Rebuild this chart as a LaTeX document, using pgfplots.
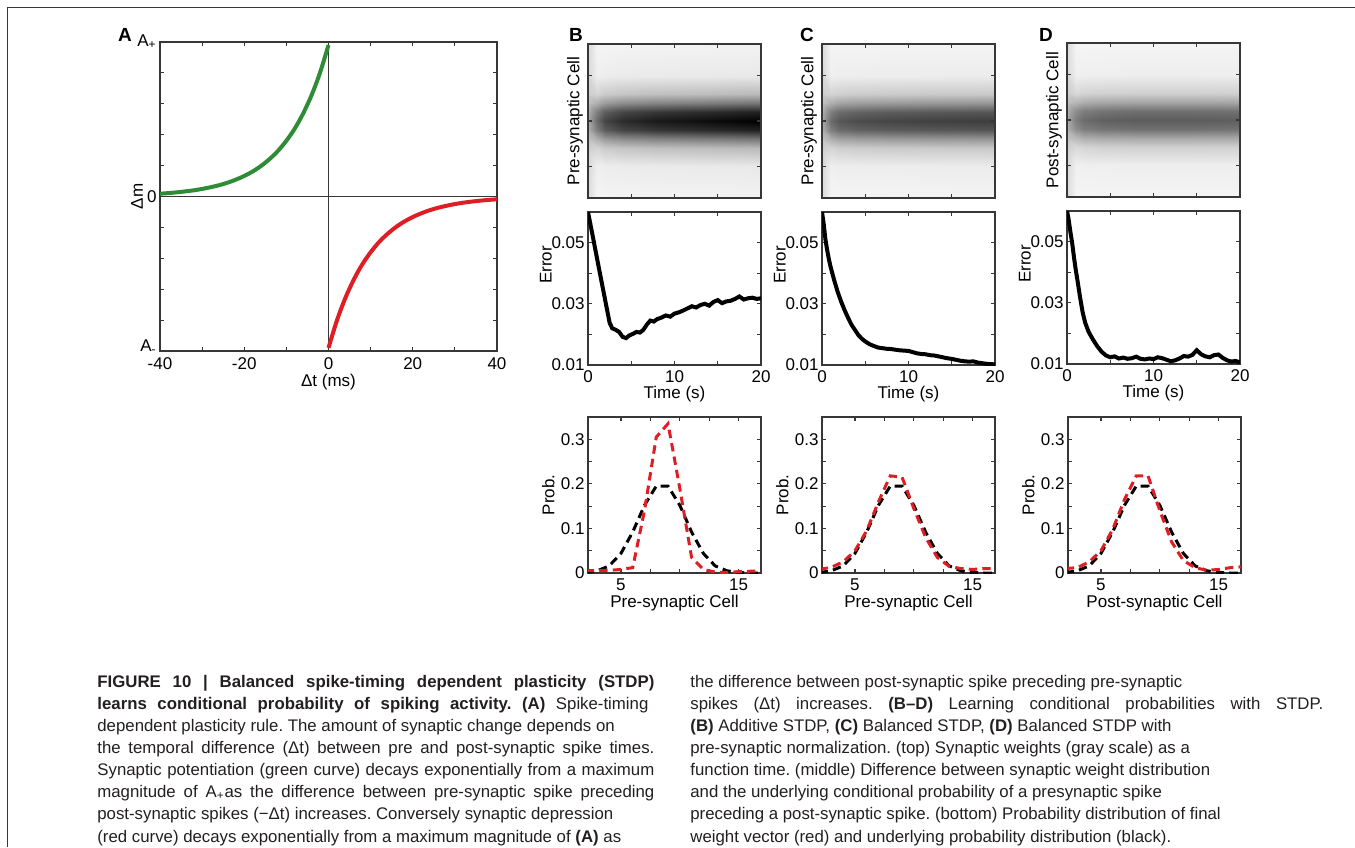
\documentclass[border=0pt]{standalone}
\usepackage{fontspec}
\setmainfont{Liberation Sans}
\usepackage{pgfplots}
\pgfplotsset{compat=1.18}
\usepackage{pgfplotstable}

\definecolor{stdpgreen}{RGB}{46,139,54}
\definecolor{stdpred}{RGB}{222,30,36}
\definecolor{framegray}{RGB}{55,55,55}
\definecolor{captxt}{RGB}{35,31,32}

\newcommand{\lab}{\fontsize{8.5}{9}\selectfont}
\newcommand{\capfont}{\fontsize{8.4}{9}\selectfont}

% synaptic weights: t (s), cell offset from band centre, weight for B, C, D
\pgfplotstableread{
t y wb wc wd
0 -8.5 .144 .144 .144
1 -8.5 .041 .041 .040
2 -8.5 .044 .043 .041
4 -8.5 .046 .043 .042
8 -8.5 .047 .044 .042
14 -8.5 .048 .044 .042
20 -8.5 .049 .045 .042
0 -5 .152 .152 .152
1 -5 .063 .063 .059
2 -5 .072 .068 .063
4 -5 .078 .070 .065
8 -5 .082 .072 .067
14 -5 .085 .073 .067
20 -5 .088 .074 .066
0 -3 .19 .19 .19
1 -3 .168 .168 .15
2 -3 .205 .188 .168
4 -3 .23 .198 .178
8 -3 .248 .205 .183
14 -3 .26 .21 .183
20 -3 .273 .213 .18
0 -2 .244 .244 .244
1 -2 .316 .316 .28
2 -2 .394 .358 .316
4 -2 .446 .378 .337
8 -2 .482 .394 .347
14 -2 .508 .404 .347
20 -2 .534 .41 .342
0 -1 .314 .314 .314
1 -1 .509 .509 .448
2 -1 .639 .578 .509
4 -1 .726 .613 .543
8 -1 .787 .639 .561
14 -1 .83 .656 .561
20 -1 .874 .665 .552
0 0 .34 .34 .34
1 0 .58 .58 .51
2 0 .73 .66 .58
4 0 .83 .70 .62
8 0 .90 .73 .64
14 0 .95 .75 .64
20 0 1.0 .76 .63
0 1 .314 .314 .314
1 1 .509 .509 .448
2 1 .639 .578 .509
4 1 .726 .613 .543
8 1 .787 .639 .561
14 1 .83 .656 .561
20 1 .874 .665 .552
0 2 .244 .244 .244
1 2 .316 .316 .28
2 2 .394 .358 .316
4 2 .446 .378 .337
8 2 .482 .394 .347
14 2 .508 .404 .347
20 2 .534 .41 .342
0 3 .19 .19 .19
1 3 .168 .168 .15
2 3 .205 .188 .168
4 3 .23 .198 .178
8 3 .248 .205 .183
14 3 .26 .21 .183
20 3 .273 .213 .18
0 5 .152 .152 .152
1 5 .063 .063 .059
2 5 .072 .068 .063
4 5 .078 .070 .065
8 5 .082 .072 .067
14 5 .085 .073 .067
20 5 .088 .074 .066
0 8.5 .144 .144 .144
1 8.5 .041 .041 .040
2 8.5 .044 .043 .041
4 8.5 .046 .043 .042
8 8.5 .047 .044 .042
14 8.5 .048 .044 .042
20 8.5 .049 .045 .042
}\heat

\pgfplotsset{
  panel/.style={
    scale only axis,
    axis line style={framegray, line width=0.55pt},
    tick style={framegray, line width=0.55pt},
    major tick length=1.8pt, minor tick length=1.8pt,
    tick align=inside,
    ticklabel style={font=\lab, text=black, inner sep=1.5pt},
    xticklabel style={yshift=-1pt},
    label style={font=\lab},
    /pgf/number format/assume math mode=true,
    scaled x ticks=false, scaled y ticks=false,
    enlargelimits=false,
  },
  heat/.style={panel, width=86.5pt, height=77pt,
    xmin=0, xmax=20, ymin=-8.5, ymax=8.5,
    xtick={5,10,15}, ytick={-5,0,5}, xticklabels={}, yticklabels={},
    axis on top,
    colormap={bw}{gray(0cm)=(1); gray(1cm)=(0)},
    point meta min=0, point meta max=1,
    ylabel style={at={(axis description cs:-0.075,0.5)}, anchor=center}},
  err/.style={panel, width=86.5pt, height=76.5pt,
    xmin=0, xmax=20, ymin=0.01, ymax=0.06,
    xtick={0,10,20}, minor xtick={5,15},
    ytick={0.01,0.03,0.05}, yticklabels={0.01,0.03,0.05}, minor ytick={0.02,0.04},
    xlabel={Time (s)}, ylabel={Error},
    xlabel style={at={(axis description cs:0.5,-0.19)}, anchor=center},
    ylabel style={at={(axis description cs:-0.243,0.654)}, anchor=center}},
  prob/.style={panel, width=86.5pt, height=78pt,
    xmin=2.2, xmax=16.9, ymin=0, ymax=0.35,
    xtick={5,15}, minor xtick={7.5,10,12.5},
    ytick={0,0.1,0.2,0.3}, yticklabels={0,0.1,0.2,0.3}, minor ytick={0.05,0.15,0.25},
    ylabel={Prob.},
    xlabel style={at={(axis description cs:0.5,-0.192)}, anchor=center},
    ylabel style={at={(axis description cs:-0.23,0.5)}, anchor=center}},
  errline/.style={black, line width=2pt},
  pdash/.style={line width=1.5pt, dash pattern=on 4.2pt off 2.6pt},
}

\newcommand{\blackprob}{\addplot[pdash, black] coordinates {
  (2,0.001) (3,0.005) (4,0.016) (5,0.044) (6,0.092) (7,0.152) (8,0.195) (9,0.195)
  (10,0.152) (11,0.092) (12,0.044) (13,0.016) (14,0.005) (15,0.001) (16,0.000) (17,0.000)};}

\begin{document}
\frenchspacing
\begin{tikzpicture}
\useasboundingbox (0,0) rectangle (677.5pt,-423.5pt);
\draw[framegray, line width=0.75pt] (3.75pt,-423.5pt) -- (3.75pt,-3.75pt) -- (677.5pt,-3.75pt);

% ---- A: STDP rule
\begin{axis}[panel, at={(80pt,-21pt)}, anchor=north west,
  width=168.5pt, height=154.5pt,
  xmin=-40, xmax=40, ymin=-1, ymax=1,
  xtick={-40,-20,0,20,40}, minor xtick={-30,-10,10,30},
  xticklabel style={yshift=-0.5pt},
  ytick={-1,0,1},
  yticklabels={\raisebox{5.5pt}{A\textsubscript{-}},0,\raisebox{1.5pt}{A\textsubscript{+}}},
  minor ytick={-0.8,-0.6,-0.4,-0.2,0.2,0.4,0.6,0.8},
  xlabel={Δt (ms)}, ylabel={Δm},
  xlabel style={at={(axis description cs:0.5,-0.1)}, anchor=center},
  ylabel style={at={(axis description cs:-0.068,0.5)}, anchor=center}]
\addplot[framegray, line width=0.5pt] coordinates {(-40,0) (40,0)};
\addplot[framegray, line width=0.5pt] coordinates {(0,-1) (0,1)};
\addplot[stdpgreen, line width=2pt, smooth] coordinates {
  (-40,0.018) (-38,0.022) (-36,0.027) (-34,0.033) (-32,0.040) (-30,0.049)
  (-28,0.060) (-26,0.073) (-24,0.089) (-22,0.109) (-20,0.133) (-18,0.162)
  (-16,0.198) (-14,0.242) (-12,0.295) (-10,0.361) (-8,0.440) (-6,0.538)
  (-4,0.657) (-2,0.802) (0,0.980)};
\addplot[stdpred, line width=2pt, smooth] coordinates {
  (0,-0.980) (2,-0.802) (4,-0.657) (6,-0.538) (8,-0.440) (10,-0.361)
  (12,-0.295) (14,-0.242) (16,-0.198) (18,-0.162) (20,-0.133) (22,-0.109)
  (24,-0.089) (26,-0.073) (28,-0.060) (30,-0.049) (32,-0.040) (34,-0.033)
  (36,-0.027) (38,-0.022) (40,-0.018)};
\end{axis}
\node[font=\fontsize{9.5}{10}\selectfont\bfseries] at (62.5pt,-17.5pt) {A};

% ---- B
\begin{axis}[heat, at={(294pt,-22pt)}, anchor=north west, ylabel={Pre-synaptic Cell}]
\addplot[surf, shader=interp, mesh/cols=7, point meta=explicit] table[x=t, y=y, meta=wb] {\heat};
\end{axis}
\begin{axis}[err, at={(294pt,-106pt)}, anchor=north west]
\addplot[errline] coordinates {
  (0,0.0600) (0.5,0.0528) (1.0,0.0455) (1.5,0.0382) (2.0,0.0310) (2.5,0.0238)
  (2.8,0.0220) (3.2,0.0215) (3.6,0.0208) (4.0,0.0192) (4.4,0.0188) (4.8,0.0197)
  (5.2,0.0202) (5.6,0.0208) (6.0,0.0206) (6.4,0.0215) (6.8,0.0232) (7.2,0.0245)
  (7.6,0.0242) (8.0,0.0250) (8.5,0.0255) (9.0,0.0262) (9.5,0.0258) (10.0,0.0268)
  (10.5,0.0272) (11.0,0.0278) (11.5,0.0285) (12.0,0.0292) (12.5,0.0288) (13.0,0.0296)
  (13.5,0.0300) (14.0,0.0294) (14.5,0.0306) (15.0,0.0312) (15.5,0.0302) (16.0,0.0308)
  (16.5,0.0310) (17.0,0.0316) (17.5,0.0324) (18.0,0.0314) (18.5,0.0318) (19.0,0.0320)
  (19.5,0.0316) (20.0,0.0318)};
\end{axis}
\begin{axis}[prob, at={(294pt,-208.5pt)}, anchor=north west, xlabel={Pre-synaptic Cell}]
\blackprob
\addplot[pdash, stdpred] coordinates {
  (2,0.006) (3,0.005) (4,0.006) (5,0.008) (6,0.012) (7,0.14) (8,0.305) (9,0.335)
  (10,0.19) (11,0.035) (12,0.008) (13,0.002) (14,0.001) (15,0.003) (16,0.004) (17,0.004)};
\end{axis}
\node[font=\fontsize{9.5}{10}\selectfont\bfseries] at (288pt,-17.5pt) {B};

% ---- C
\begin{axis}[heat, at={(411pt,-22pt)}, anchor=north west, ylabel={Pre-synaptic Cell}]
\addplot[surf, shader=interp, mesh/cols=7, point meta=explicit] table[x=t, y=y, meta=wc] {\heat};
\end{axis}
\begin{axis}[err, at={(411pt,-106pt)}, anchor=north west]
\addplot[errline] coordinates {
  (0,0.0600) (0.2,0.0560) (0.4,0.0510) (0.6,0.0475) (0.8,0.0445) (1.0,0.0420)
  (1.4,0.0378) (1.8,0.0340) (2.2,0.0308) (2.6,0.0280) (3.0,0.0255) (3.4,0.0232)
  (3.8,0.0215) (4.2,0.0198) (4.6,0.0186) (5.0,0.0177) (5.5,0.0168) (6.0,0.0162)
  (6.5,0.0157) (7.0,0.0155) (7.5,0.0153) (8.0,0.0152) (8.5,0.0150) (9.0,0.0148)
  (9.5,0.0147) (10.0,0.0146) (10.5,0.0142) (11.0,0.0138) (11.5,0.0136) (12.0,0.0135)
  (12.5,0.0132) (13.0,0.0131) (13.5,0.0128) (14.0,0.0125) (14.5,0.0122) (15.0,0.0120)
  (15.5,0.0117) (16.0,0.0114) (16.5,0.0112) (17.0,0.0111) (17.5,0.0112) (18.0,0.0108)
  (18.5,0.0106) (19.0,0.0104) (19.5,0.0103) (20.0,0.0102)};
\end{axis}
\begin{axis}[prob, at={(411pt,-208.5pt)}, anchor=north west, xlabel={Pre-synaptic Cell}]
\blackprob
\addplot[pdash, stdpred] coordinates {
  (2,0.008) (3,0.013) (4,0.025) (5,0.05) (6,0.095) (7,0.16) (8,0.218) (9,0.215)
  (10,0.145) (11,0.08) (12,0.035) (13,0.015) (14,0.01) (15,0.008) (16,0.01) (17,0.01)};
\end{axis}
\node[font=\fontsize{9.5}{10}\selectfont\bfseries] at (403.5pt,-17.5pt) {C};

% ---- D
\begin{axis}[heat, at={(533.5pt,-21.5pt)}, anchor=north west, ylabel={Post-synaptic Cell}]
\addplot[surf, shader=interp, mesh/cols=7, point meta=explicit] table[x=t, y=y, meta=wd] {\heat};
\end{axis}
\begin{axis}[err, at={(533.5pt,-105.5pt)}, anchor=north west]
\addplot[errline] coordinates {
  (0,0.0600) (0.2,0.0570) (0.4,0.0530) (0.6,0.0495) (0.8,0.0450) (1.0,0.0410)
  (1.2,0.0375) (1.5,0.0320) (1.8,0.0270) (2.1,0.0235) (2.5,0.0205) (3.0,0.0180)
  (3.5,0.0158) (4.0,0.0140) (4.5,0.0128) (5.0,0.0122) (5.5,0.0125) (6.0,0.0118)
  (6.5,0.0121) (7.0,0.0117) (7.5,0.0119) (8.0,0.0124) (8.5,0.0117) (9.0,0.0115)
  (9.5,0.0118) (10.0,0.0116) (10.5,0.0122) (11.0,0.0119) (11.5,0.0114) (12.0,0.0109)
  (12.5,0.0112) (13.0,0.0118) (13.5,0.0126) (14.0,0.0124) (14.5,0.0130) (15.0,0.0145)
  (15.5,0.0132) (16.0,0.0125) (16.5,0.0122) (17.0,0.0129) (17.5,0.0131) (18.0,0.0120)
  (18.5,0.0112) (19.0,0.0108) (19.5,0.0110) (20.0,0.0105)};
\end{axis}
\begin{axis}[prob, at={(534pt,-208.5pt)}, anchor=north west, xlabel={Post-synaptic Cell}]
\blackprob
\addplot[pdash, stdpred] coordinates {
  (2,0.010) (3,0.012) (4,0.025) (5,0.05) (6,0.098) (7,0.165) (8,0.218) (9,0.218)
  (10,0.14) (11,0.07) (12,0.028) (13,0.012) (14,0.006) (15,0.008) (16,0.012) (17,0.014)};
\end{axis}
\node[font=\fontsize{9.5}{10}\selectfont\bfseries] at (523pt,-17.5pt) {D};

% ---- caption
\begin{scope}[every node/.style={anchor=base west, inner sep=0pt, font=\capfont, text=captxt}]
\node at (48.5pt,-343.5pt) {\makebox[278.5pt][s]{\textbf{FIGURE 10 | Balanced spike-timing dependent plasticity (STDP)}}};
\node at (48.5pt,-354.6pt) {\makebox[275.5pt][s]{\textbf{learns conditional probability of spiking activity. (A)} Spike-timing}};
\node at (48.5pt,-365.6pt) {dependent plasticity rule. The amount of synaptic change depends on};
\node at (48.5pt,-376.7pt) {\makebox[278.5pt][s]{the temporal difference (Δt) between pre and post-synaptic spike times.}};
\node at (48.5pt,-387.8pt) {\makebox[278.5pt][s]{Synaptic potentiation (green curve) decays exponentially from a maximum}};
\node at (48.5pt,-398.9pt) {\makebox[278.5pt][s]{magnitude of A\textsubscript{+}as the difference between pre-synaptic spike preceding}};
\node at (48.5pt,-409.9pt) {post-synaptic spikes (−Δt) increases. Conversely synaptic depression};
\node at (48.5pt,-421.0pt) {(red curve) decays exponentially from a maximum magnitude of \textbf{(A)} as};
\node at (345pt,-343.5pt) {the difference between post-synaptic spike preceding pre-synaptic};
\node at (345pt,-354.6pt) {\makebox[316.5pt][s]{spikes (Δt) increases. \textbf{(B–D)} Learning conditional probabilities with STDP.}};
\node at (345pt,-365.6pt) {\textbf{(B)} Additive STDP, \textbf{(C)} Balanced STDP, \textbf{(D)} Balanced STDP with};
\node at (345pt,-376.7pt) {pre-synaptic normalization. (top) Synaptic weights (gray scale) as a};
\node at (345pt,-387.8pt) {function time. (middle) Difference between synaptic weight distribution};
\node at (345pt,-398.9pt) {and the underlying conditional probability of a presynaptic spike};
\node at (345pt,-409.9pt) {preceding a post-synaptic spike. (bottom) Probability distribution of final};
\node at (345pt,-421.0pt) {weight vector (red) and underlying probability distribution (black).};
\end{scope}
\end{tikzpicture}
\end{document}
